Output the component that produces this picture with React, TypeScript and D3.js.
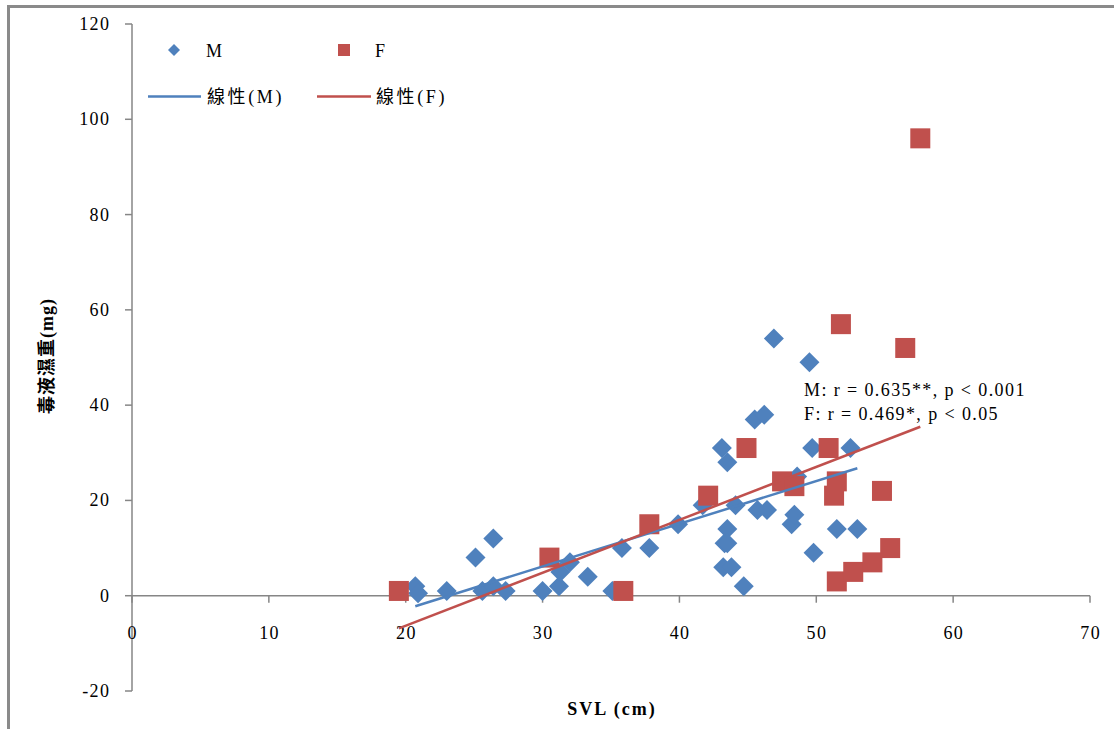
import React from "react";
import * as d3 from "d3";

// Snout–vent length (cm) and wet venom weight (mg) per individual
const maleSVL = [
  20.7, 20.9, 23.0, 25.1, 26.4, 25.6, 26.4, 27.3, 30.0, 31.2, 31.3, 32.0, 33.3, 35.1,
  35.8, 37.8, 39.9, 41.7, 43.1, 43.5, 43.5, 43.3, 43.5, 43.2, 43.8, 44.1, 44.7, 45.5,
  46.2, 45.7, 46.4, 46.9, 48.2, 48.4, 48.6, 49.5, 49.7, 49.8, 51.5, 52.5, 53.0,
];
const maleVenom = [
  2, 0.5, 1, 8, 12, 1, 2, 1, 1, 2, 5, 7, 4, 1,
  10, 10, 15, 19, 31, 28, 14, 11, 11, 6, 6, 19, 2, 37,
  38, 18, 18, 54, 15, 17, 25, 49, 31, 9, 14, 31, 14,
];
const femaleSVL = [
  19.5, 30.5, 35.9, 37.8, 42.1, 44.9, 47.5, 48.4, 50.9, 51.5, 51.3, 54.8, 51.5, 52.7,
  54.1, 55.4, 51.8, 56.5, 57.6,
];
const femaleVenom = [
  1, 8, 1, 15, 21, 31, 24, 23, 31, 24, 21, 22, 3, 5,
  7, 10, 57, 52, 96,
];

const xTicks = [0, 10, 20, 30, 40, 50, 60, 70];
const yTicks = [-20, 0, 20, 40, 60, 80, 100, 120];
const statLines = ["M: r = 0.635**, p < 0.001", "F: r = 0.469*, p < 0.05"];

const BLUE = "#4F81BD";
const RED = "#C0504D";
const AXIS = "#868686";
const FONT = "'Liberation Serif', 'Times New Roman', 'Noto Sans CJK TC', serif";
const CJK = "'Liberation Serif', 'Noto Sans CJK TC', serif";
const LS = 1.4;

function fit(xs: number[], ys: number[]) {
  const mx = d3.mean(xs)!;
  const my = d3.mean(ys)!;
  let sxy = 0;
  let sxx = 0;
  xs.forEach((x, i) => {
    sxy += (x - mx) * (ys[i] - my);
    sxx += (x - mx) * (x - mx);
  });
  const b = sxy / sxx;
  const a = my - b * mx;
  const [x0, x1] = d3.extent(xs) as [number, number];
  return [
    [x0, a + b * x0],
    [x1, a + b * x1],
  ] as [number, number][];
}

export default function App() {
  const x = d3.scaleLinear().domain([0, 70]).range([132, 1090]);
  const y = d3.scaleLinear().domain([-20, 120]).range([691, 24]);

  const males = maleSVL.map((v, i) => [v, maleVenom[i]] as [number, number]);
  const females = femaleSVL.map((v, i) => [v, femaleVenom[i]] as [number, number]);
  const line = d3
    .line<[number, number]>()
    .x((d) => x(d[0]))
    .y((d) => y(d[1]));
  const mFit = fit(maleSVL, maleVenom);
  const fFit = fit(femaleSVL, femaleVenom);
  const diamond = (cx: number, cy: number, r: number) =>
    `M${cx},${cy - r}L${cx + r},${cy}L${cx},${cy + r}L${cx - r},${cy}Z`;

  return (
    <svg
      width={1114}
      height={729}
      style={{ position: "absolute", left: 0, top: 0, background: "#fff" }}
    >
      {/* chart frame */}
      <line x1={7} x2={1114} y1={6.5} y2={6.5} stroke="#8a8a8a" strokeWidth={3} />
      <line x1={8.5} x2={8.5} y1={5} y2={729} stroke="#8a8a8a" strokeWidth={3} />

      {/* y axis */}
      <line x1={132} x2={132} y1={y(120)} y2={y(-20)} stroke={AXIS} strokeWidth={1.5} />
      {yTicks.map((t) => (
        <g key={"y" + t}>
          <line x1={125} x2={132} y1={y(t)} y2={y(t)} stroke={AXIS} strokeWidth={1.5} />
          <text
            x={109 + LS}
            y={y(t) + 6}
            textAnchor="end"
            fontFamily={FONT}
            fontSize={18}
            letterSpacing={LS}
            fill="#000"
          >
            {t}
          </text>
        </g>
      ))}

      {/* x axis at zero */}
      <line x1={132} x2={1090} y1={y(0)} y2={y(0)} stroke={AXIS} strokeWidth={1.5} />
      {xTicks.map((t) => (
        <g key={"x" + t}>
          <line x1={x(t)} x2={x(t)} y1={y(0)} y2={y(0) + 7} stroke={AXIS} strokeWidth={1.5} />
          <text
            x={x(t) + LS / 2}
            y={639}
            textAnchor="middle"
            fontFamily={FONT}
            fontSize={18}
            letterSpacing={LS}
            fill="#000"
          >
            {t}
          </text>
        </g>
      ))}

      {/* axis titles */}
      <text
        x={612}
        y={715}
        textAnchor="middle"
        fontFamily={FONT}
        fontSize={18}
        fontWeight="bold"
        letterSpacing={2}
      >
        SVL (cm)
      </text>
      <text
        transform="translate(53,356) rotate(-90)"
        textAnchor="middle"
        fontFamily={CJK}
        fontSize={18}
        fontWeight="bold"
        letterSpacing={1}
      >
        毒液濕重(mg)
      </text>

      {/* male markers */}
      {males.map((d, i) => (
        <path key={"m" + i} d={diamond(x(d[0]), y(d[1]), 10)} fill={BLUE} />
      ))}
      {/* female markers */}
      {females.map((d, i) => (
        <rect
          key={"f" + i}
          x={x(d[0]) - 10}
          y={y(d[1]) - 10}
          width={20}
          height={20}
          fill={RED}
        />
      ))}

      {/* linear trend lines */}
      <path d={line(mFit)!} stroke={BLUE} strokeWidth={2.5} fill="none" />
      <path d={line(fFit)!} stroke={RED} strokeWidth={2.5} fill="none" />

      {/* correlation statistics */}
      {statLines.map((s, i) => (
        <text
          key={s}
          x={804}
          y={396 + i * 23.5}
          fontFamily={FONT}
          fontSize={18}
          letterSpacing={LS}
        >
          {s}
        </text>
      ))}

      {/* legend */}
      <path d={diamond(174, 50, 6)} fill={BLUE} />
      <text x={206} y={57} fontFamily={FONT} fontSize={18} letterSpacing={LS}>
        M
      </text>
      <rect x={338} y={44} width={12} height={12} fill={RED} />
      <text x={375} y={57} fontFamily={FONT} fontSize={18} letterSpacing={LS}>
        F
      </text>
      <line x1={148} x2={201} y1={96.5} y2={96.5} stroke={BLUE} strokeWidth={2.5} />
      <text x={207} y={103} fontFamily={CJK} fontSize={18} letterSpacing={2.6}>
        線性(M)
      </text>
      <line x1={317} x2={371} y1={96.5} y2={96.5} stroke={RED} strokeWidth={2.5} />
      <text x={376} y={103} fontFamily={CJK} fontSize={18} letterSpacing={2.6}>
        線性(F)
      </text>
    </svg>
  );
}
